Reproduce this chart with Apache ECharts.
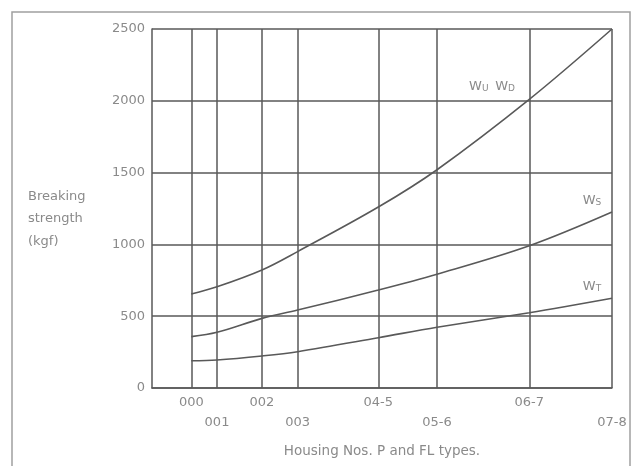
<!DOCTYPE html>
<html>
<head>
<meta charset="utf-8">
<script src="https://cdn.jsdelivr.net/npm/echarts@6/dist/echarts.min.js"></script>
<style>html,body{margin:0;padding:0;background:#fff}#c{width:632px;height:466px}</style>
</head>
<body>
<div id="c"></div>
<script>
// Housing numbers and their relative positions along the x axis
var housingLabels = ['000', '001', '002', '003', '04-5', '05-6', '06-7', '07-8'];
var housingPos = [8.54, 14.13, 23.91, 31.65, 49.2, 61.96, 82.02, 100];
// Breaking strength (kgf)
var wUD = [655, 705, 822, 950, 1260, 1520, 2010, 2500];
var wS = [358, 388, 485, 543, 682, 792, 990, 1225];
var wT = [190, 195, 223, 253, 350, 423, 524, 625];
var yTicks = [0, 500, 1000, 1500, 2000, 2500];

var FONT = 'DejaVu Sans';
var TXT = '#8a8a8a';
var LINE = '#595959';

function pairs(ys) { return ys.map(function (v, i) { return [housingPos[i], v]; }); }

var chart = echarts.init(document.getElementById('c'), null, { renderer: 'canvas' });
var rich = {
  w: { fontFamily: FONT, fontSize: 13, color: TXT, lineHeight: 16, verticalAlign: 'bottom' },
  s: { fontFamily: FONT, fontSize: 9, color: TXT, lineHeight: 16, verticalAlign: 'bottom' }
};
function seriesOf(name, data, fmt, offset) {
  return {
    name: name, type: 'line', data: pairs(data), smooth: 0.35, symbol: 'none',
    lineStyle: { color: LINE, width: 1.6 },
    endLabel: { show: true, formatter: fmt, rich: rich, offset: offset, align: 'center' },
    z: 3
  };
}
chart.setOption({
  backgroundColor: '#fff',
  animation: false,
  grid: { left: 152, right: 20, top: 29, bottom: 78 },
  xAxis: {
    type: 'value', min: 0, max: 100,
    axisLine: { show: true, lineStyle: { color: LINE, width: 1.5 } },
    axisTick: { show: false, customValues: housingPos },
    axisLabel: {
      customValues: housingPos, margin: 5, color: TXT, fontFamily: FONT, fontSize: 13, lineHeight: 20,
      formatter: function (v) {
        var i = housingPos.indexOf(v);
        var t = housingLabels[i];
        return (i % 2 === 1) ? '\n' + t : t;
      }
    },
    splitLine: { show: true, lineStyle: { color: LINE, width: 1.5 } },
    name: 'Housing Nos. P and FL types.', nameLocation: 'middle', nameGap: 56,
    nameTextStyle: { color: TXT, fontFamily: FONT, fontSize: 13.5 }
  },
  yAxis: {
    type: 'value', min: 0, max: 2500, interval: 500,
    axisLine: { show: true, lineStyle: { color: LINE, width: 1.5 } },
    axisTick: { show: false },
    axisLabel: {
      color: TXT, fontFamily: FONT, fontSize: 13, margin: 7,
      formatter: function (v) { return yTicks.indexOf(v) >= 0 ? String(v) : ''; }
    },
    splitLine: { show: true, lineStyle: { color: LINE, width: 1.5 } }
  },
  graphic: [
    { type: 'rect', shape: { x: 12, y: 12, width: 618, height: 470 }, style: { fill: null, stroke: '#a0a0a0', lineWidth: 1.5 }, silent: true },
    { type: 'text', left: 28, top: 185, style: { text: 'Breaking\nstrength\n(kgf)', fill: TXT, font: '13px "' + FONT + '"', lineHeight: 22.5 } }
  ],
  series: [
    seriesOf('WU WD', wUD, '{w|W}{s|U}  {w|W}{s|D}', [-128, 56]),
    seriesOf('WS', wS, '{w|W}{s|S}', [-28, -13]),
    seriesOf('WT', wT, '{w|W}{s|T}', [-28, -13])
  ]
});
</script>
</body>
</html>
